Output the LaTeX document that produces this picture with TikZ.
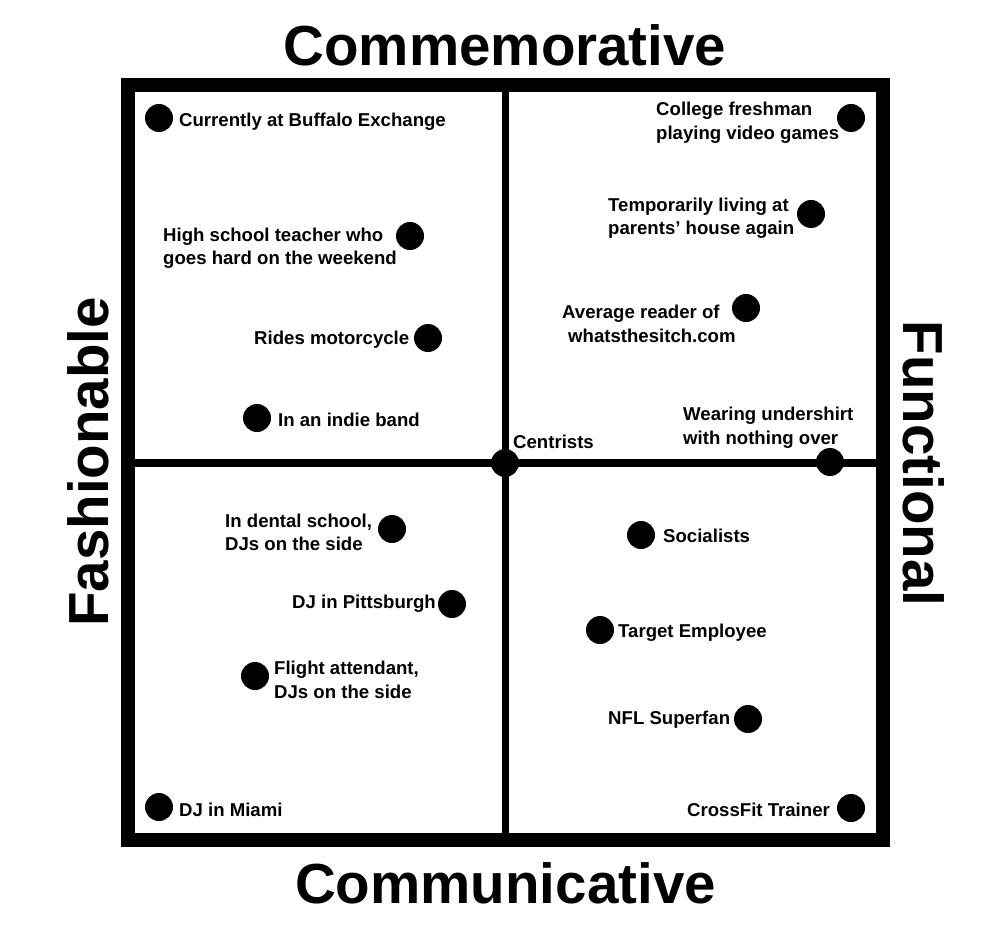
\documentclass[tikz,border=0pt]{standalone}
\usepackage{fontspec}
\setmainfont{Liberation Sans}
\begin{document}
\begin{tikzpicture}[x=1pt,y=-1pt,
  dot/.style={circle,fill=black,inner sep=0pt,minimum size=28pt},
  lbl/.style={font=\fontsize{18.6}{23.5}\selectfont\bfseries,inner sep=0pt,align=left,anchor=west,yshift=-2pt},
  axis/.style={font=\fontsize{56.5}{60}\selectfont\bfseries,inner sep=0pt,anchor=base},
  frame/.style={line width=14pt},
  divider/.style={line width=7.5pt}]
\useasboundingbox[fill=white] (0,0) rectangle (1000,941);
% frame and dividers
\coordinate (tl) at (128,85.5);
\coordinate (br) at (882.5,840);
\coordinate (vt) at (505.5,85.5);
\coordinate (vb) at (505.5,840);
\coordinate (hl) at (128,463);
\coordinate (hr) at (882.5,463);
\draw[divider] (vt) -- (vb);
\draw[divider] (hl) -- (hr);
\draw[frame] (tl) rectangle (br);
% axis titles
\node[axis] (top) at (505,66) {Commemorative};
\node[axis] (bottom) at (505.5,903) {Communicative};
\node[axis,rotate=90] (left) at (108,462) {Fashionable};
\node[axis,rotate=-90] (right) at (903,463.5) {Functional};
% dots
\node[dot] (d1) at (159,118) {};
\node[dot] (d2) at (410,236) {};
\node[dot] (d3) at (428,338) {};
\node[dot] (d4) at (257,418) {};
\node[dot] (d5) at (851,118) {};
\node[dot] (d6) at (811,214) {};
\node[dot] (d7) at (746,308) {};
\node[dot] (d8) at (830,462) {};
\node[dot] (d9) at (505,463) {};
\node[dot] (d10) at (392,529) {};
\node[dot] (d11) at (452,604) {};
\node[dot] (d12) at (255,676) {};
\node[dot] (d13) at (159,807) {};
\node[dot] (d14) at (641,535) {};
\node[dot] (d15) at (600,630) {};
\node[dot] (d16) at (748,719) {};
\node[dot] (d17) at (851,808) {};
% labels
\node[lbl] (l1) at (179,120) {Currently at Buffalo Exchange};
\node[lbl] (l2) at (163,246) {High school teacher who\\goes hard on the weekend};
\node[lbl] (l3) at (254,338) {Rides motorcycle};
\node[lbl] (l4) at (278,418) {In an indie band};
\node[lbl] (l5) at (656,120.5) {College freshman\\playing video games};
\node[lbl] (l6) at (608,216) {Temporarily living at\\parents’ house again};
\node[lbl] (l7) at (562,322) {Average reader of\\\hspace*{6pt}whatsthesitch.com};
\node[lbl] (l8) at (683,425.5) {Wearing undershirt\\with nothing over};
\node[lbl] (l9) at (513,440) {Centrists};
\node[lbl] (l10) at (225,530.5) {In dental school,\\DJs on the side};
\node[lbl] (l11) at (292,602) {DJ in Pittsburgh};
\node[lbl] (l12) at (274,678) {Flight attendant,\\DJs on the side};
\node[lbl] (l13) at (179,808) {DJ in Miami};
\node[lbl] (l14) at (663,534) {Socialists};
\node[lbl] (l15) at (618,631) {Target Employee};
\node[lbl] (l16) at (608,718) {NFL Superfan};
\node[lbl] (l17) at (687,808) {CrossFit Trainer};
\end{tikzpicture}
\end{document}
